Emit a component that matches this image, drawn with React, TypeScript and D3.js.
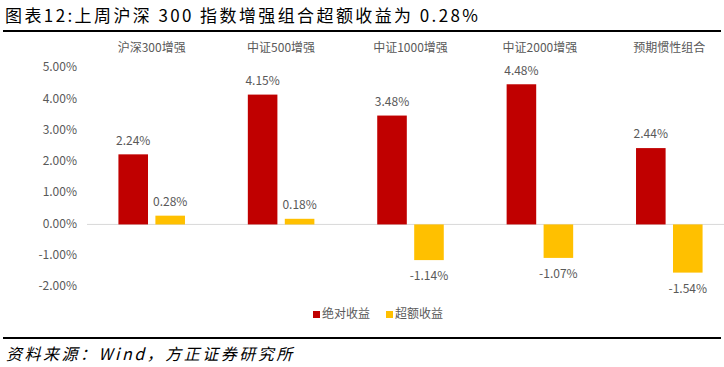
import * as d3 from "d3";

const categories = ["沪深300增强", "中证500增强", "中证1000增强", "中证2000增强", "预期惯性组合"];
const seriesNames = ["绝对收益", "超额收益"];
const absoluteReturn = [2.24, 4.15, 3.48, 4.48, 2.44];
const excessReturn = [0.28, 0.18, -1.14, -1.07, -1.54];
const yTicks = [5, 4, 3, 2, 1, 0, -1, -2];

const colors: Record<string, string> = { 绝对收益: "#C00000", 超额收益: "#FFC000" };
const width = 724;
const height = 367;
const font = "'Noto Sans CJK SC', 'Noto Sans', sans-serif";
const grey = "#595959";

// plain hyphen minus like the original, not d3's unicode minus
const fmt = (v: number) => v.toFixed(2) + "%";

export default function App() {
  const x = d3.scaleBand().domain(categories).range([87, 734]).paddingInner(0);
  const x1 = d3
    .scaleBand()
    .domain(seriesNames)
    .range([0, x.bandwidth()])
    .paddingInner(0.2)
    .paddingOuter(0.85);
  const y = d3.scaleLinear().domain([-2, 5]).range([287, 68]);

  const rows = categories.map((c, i) => ({
    cat: c,
    values: [
      { key: seriesNames[0], value: absoluteReturn[i] },
      { key: seriesNames[1], value: excessReturn[i] },
    ],
  }));

  return (
    <div style={{ position: "absolute", left: 0, top: 0 }}>
      <svg width={width} height={height} style={{ display: "block", background: "#fff" }}>
        <text x={5} y={22} fontFamily={font} fontSize={17} letterSpacing={2.4} fill="#000">
          图表12:上周沪深 300 指数增强组合超额收益为 0.28%
        </text>
        <line x1={3} x2={721} y1={31} y2={31} stroke="#000" strokeWidth={2} />

        {categories.map((c) => (
          <text
            key={c}
            x={(x(c) ?? 0) + x.bandwidth() / 2}
            y={49}
            textAnchor="middle"
            dominantBaseline="middle"
            fontFamily={font}
            fontSize={12}
            fill={grey}
          >
            {c}
          </text>
        ))}

        {yTicks.map((t) => (
          <text
            key={t}
            x={77}
            y={y(t)}
            textAnchor="end"
            dominantBaseline="middle"
            fontFamily={font}
            fontSize={12}
            fill={grey}
          >
            {fmt(t)}
          </text>
        ))}

        <line x1={87} x2={724} y1={y(0)} y2={y(0)} stroke="#D9D9D9" strokeWidth={1} />

        {rows.map((r) => (
          <g key={r.cat} transform={`translate(${x(r.cat)},0)`}>
            {r.values.map((d) => {
              const bx = x1(d.key) ?? 0;
              const top = y(Math.max(0, d.value));
              const bottom = y(Math.min(0, d.value));
              return (
                <g key={d.key}>
                  <rect
                    x={bx}
                    y={top}
                    width={x1.bandwidth()}
                    height={bottom - top}
                    fill={colors[d.key]}
                  />
                  <text
                    x={bx + x1.bandwidth() / 2}
                    y={d.value >= 0 ? top - 13 : bottom + 17}
                    textAnchor="middle"
                    dominantBaseline="middle"
                    fontFamily={font}
                    fontSize={12}
                    fill={grey}
                  >
                    {fmt(d.value)}
                  </text>
                </g>
              );
            })}
          </g>
        ))}

        {seriesNames.map((s, i) => {
          const lx = 313 + i * 73;
          return (
            <g key={s}>
              <rect x={lx} y={311} width={7} height={7} fill={colors[s]} />
              <text
                x={lx + 9}
                y={315}
                dominantBaseline="middle"
                fontFamily={font}
                fontSize={12}
                fill={grey}
              >
                {s}
              </text>
            </g>
          );
        })}

        <line x1={3} x2={721} y1={338} y2={338} stroke="#000" strokeWidth={2} />
        <text
          x={6}
          y={360}
          fontFamily={font}
          fontSize={16}
          fontStyle="italic"
          letterSpacing={2.5}
          fill="#000"
        >
          资料来源：Wind，方正证券研究所
        </text>
      </svg>
    </div>
  );
}
